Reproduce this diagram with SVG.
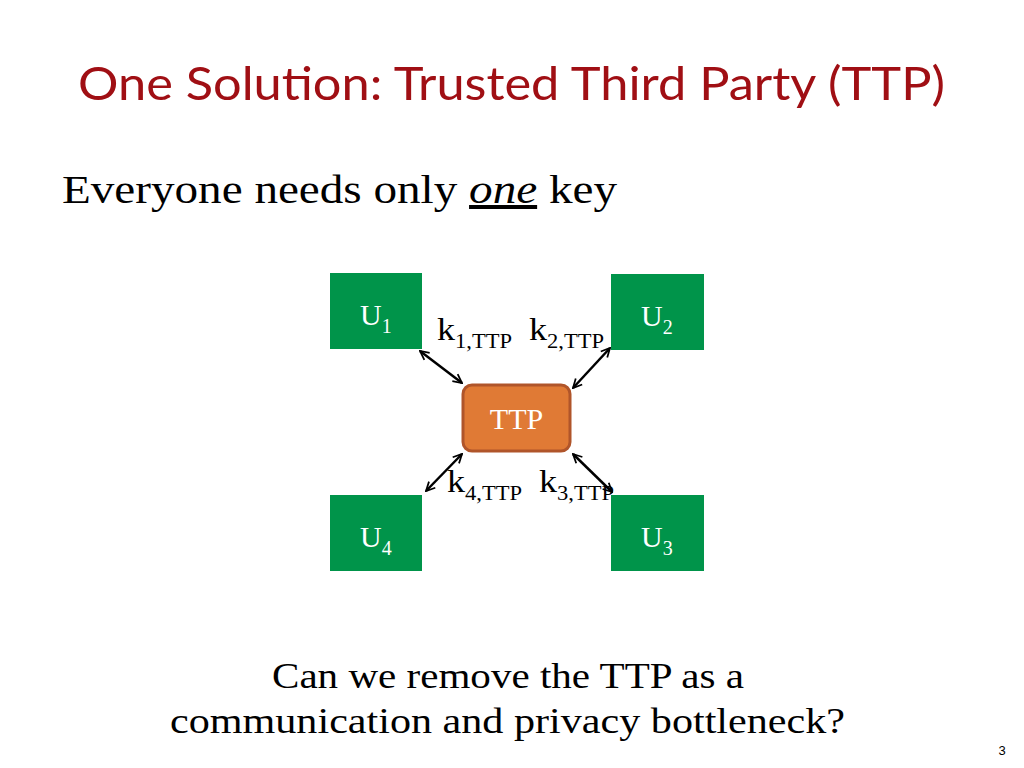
<svg xmlns="http://www.w3.org/2000/svg" width="1024" height="768" viewBox="0 0 1024 768">
<style>
.u{fill:#00944A}
.t{font-family:"Liberation Serif","DejaVu Serif",serif;fill:#fff;font-size:30px}
.k{font-family:"Liberation Serif","DejaVu Serif",serif;fill:#000;font-size:32px}
.a{stroke:#000;stroke-width:2.5;fill:none;marker-start:url(#h);marker-end:url(#h)}
</style>
<defs><marker id="h" viewBox="0 0 10 10" refX="9" refY="5" markerWidth="11" markerHeight="11" orient="auto-start-reverse" markerUnits="userSpaceOnUse"><path d="M1,1 L9,5 L1,9" fill="none" stroke="#000" stroke-width="1.6"/></marker></defs>
<rect width="1024" height="768" fill="#fff"/>
<text x="78" y="100" font-family="Lato,'Open Sans',sans-serif" font-size="46" fill="#A00F14" textLength="867" lengthAdjust="spacingAndGlyphs">One Solution: Trusted Third Party (TTP)</text>
<text x="62" y="203" font-family="'Liberation Serif',serif" font-size="40" textLength="555" lengthAdjust="spacingAndGlyphs">Everyone needs only <tspan font-style="italic" text-decoration="underline">one</tspan> key</text>
<g id="u1"><rect class="u" x="330" y="273" width="92" height="76"/><text class="t" x="360" y="325">U<tspan font-size="20" dy="8">1</tspan></text></g>
<g id="u2"><rect class="u" x="611" y="274" width="93" height="76"/><text class="t" x="641" y="326">U<tspan font-size="20" dy="8">2</tspan></text></g>
<g id="u4"><rect class="u" x="330" y="495" width="92" height="76"/><text class="t" x="360" y="547">U<tspan font-size="20" dy="8">4</tspan></text></g>
<g id="u3"><rect class="u" x="611" y="495" width="93" height="76"/><text class="t" x="641" y="547">U<tspan font-size="20" dy="8">3</tspan></text></g>
<g id="ttp"><rect x="463" y="385" width="107" height="66" rx="9" fill="#E07A35" stroke="#B0552A" stroke-width="3"/><text class="t" x="516.5" y="429" text-anchor="middle">TTP</text></g>
<g id="connectors">
<line class="a" x1="420" y1="351" x2="462" y2="383"/>
<line class="a" x1="610" y1="348" x2="573" y2="388"/>
<line class="a" x1="462" y1="454" x2="426" y2="491"/>
<line class="a" x1="573" y1="454" x2="612" y2="492"/>
</g>
<g id="labels">
<text class="k" x="437" y="340" textLength="75" lengthAdjust="spacingAndGlyphs">k<tspan font-size="20" dy="8">1,TTP</tspan></text>
<text class="k" x="529" y="340" textLength="75" lengthAdjust="spacingAndGlyphs">k<tspan font-size="20" dy="8">2,TTP</tspan></text>
<text class="k" x="447" y="492" textLength="75" lengthAdjust="spacingAndGlyphs">k<tspan font-size="20" dy="8">4,TTP</tspan></text>
<text class="k" x="539" y="492" textLength="75" lengthAdjust="spacingAndGlyphs">k<tspan font-size="20" dy="8">3,TTP</tspan></text>
</g>
<text x="272" y="688" font-family="'Liberation Serif',serif" font-size="35" textLength="472" lengthAdjust="spacingAndGlyphs">Can we remove the TTP as a</text>
<text x="170" y="733" font-family="'Liberation Serif',serif" font-size="35" textLength="675" lengthAdjust="spacingAndGlyphs">communication and privacy bottleneck?</text>
<text x="1002" y="755" text-anchor="middle" font-family="'Liberation Sans',sans-serif" font-size="13">3</text>
</svg>
